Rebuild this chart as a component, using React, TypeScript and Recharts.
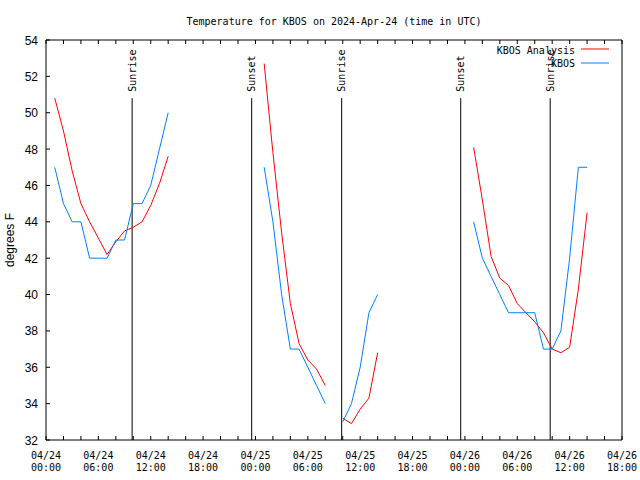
import { LineChart, Line, XAxis, YAxis, ReferenceLine } from 'recharts';

// hours since 2024-04-24 00:00 UTC, a null row breaks the line
const hours = [
  1, 2, 3, 4, 5, 6, 7, 8, 9, 10, 11, 12, 13, 14, 20,
  25, 26, 27, 28, 29, 30, 31, 32, 33,
  34, 35, 36, 37, 38, 44,
  49, 50, 51, 52, 53, 54, 55, 56, 57, 58, 59, 60, 61, 62,
];
const analysis = [
  50.8, 49.0, 46.8, 45.0, 44.0, 43.1, 42.2, 42.9, 43.5, 43.7, 44.0, 44.9, 46.1, 47.6, null,
  52.7, 47.8, 43.4, 39.5, 37.3, 36.4, 35.9, 35.0, null,
  33.2, 32.9, 33.7, 34.3, 36.8, null,
  48.1, 45.2, 42.1, 40.9, 40.5, 39.5, 39.0, 38.5, 37.9, 37.0, 36.8, 37.1, 40.3, 44.5,
];
const observed = [
  47, 45, 44, 44, 42, 42, 42, 43, 43, 45, 45, 46, 48, 50, null,
  47, 44, 40, 37, 37, 36, 35, 34, null,
  33, 34, 36, 39, 40, null,
  44, 42, 41, 40, 39, 39, 39, 39, 37, 37, 38, 42, 47, 47,
];

const eventHours = [9.87, 23.57, 33.88, 47.52, 57.77];
const eventNames = ['Sunrise', 'Sunset', 'Sunrise', 'Sunset', 'Sunrise'];

const xTicks = [0, 2, 4, 6, 8, 10, 12, 14, 16, 18, 20, 22, 24, 26, 28, 30, 32, 34, 36, 38, 40, 42, 44, 46, 48, 50, 52, 54, 56, 58, 60, 62, 64, 66];
const yTicks = [32, 34, 36, 38, 40, 42, 44, 46, 48, 50, 52, 54];
const days = ['04/24', '04/25', '04/26'];

const data = hours.map((hour, i) => ({ hour, analysis: analysis[i], observed: observed[i] }));

const MONO = '"DejaVu Sans Mono", monospace';
const SANS = '"Liberation Sans", Arial, sans-serif';
const TICK = 4;
const EVENT_TOP = 50.8; // sunrise/sunset rules stop here, label goes above

const BottomTick = ({ x, y, payload }: any) => {
  const h = payload.value;
  return (
    <g>
      <line x1={x} x2={x} y1={y} y2={y - TICK} stroke="#000" />
      {h % 6 === 0 && (
        <text x={x} y={y + 19} textAnchor="middle" fontFamily={MONO} fontSize={10} fill="#000">
          <tspan x={x}>{days[Math.floor(h / 24)]}</tspan>
          <tspan x={x} dy={12}>{String(h % 24).padStart(2, '0')}:00</tspan>
        </text>
      )}
    </g>
  );
};

const TopTick = ({ x, y }: any) => <line x1={x} x2={x} y1={y} y2={y + TICK} stroke="#000" />;

const LeftTick = ({ x, y, payload }: any) => (
  <g>
    <line x1={x} x2={x + TICK} y1={y} y2={y} stroke="#000" />
    <text x={x - 8} y={y + 4.5} textAnchor="end" fontFamily={SANS} fontSize={12} fill="#000">
      {payload.value}
    </text>
  </g>
);

const RightTick = ({ x, y }: any) => <line x1={x} x2={x - TICK} y1={y} y2={y} stroke="#000" />;

const EventLabel = ({ viewBox, text }: any) => (
  <text
    transform={`translate(${viewBox.x},${viewBox.y - 6.5}) rotate(-90)`}
    textAnchor="start"
    dominantBaseline="central"
    fontFamily={MONO}
    fontSize={10}
    fill="#000"
  >
    {text}
  </text>
);

export default function App() {
  return (
    <div style={{ position: 'absolute', left: 0, top: 0, width: 640, height: 480, background: '#fff' }}>
      <LineChart width={640} height={480} data={data} margin={{ top: 39, right: 17, bottom: 0, left: 0 }}>
        <XAxis
          xAxisId="bottom"
          dataKey="hour"
          type="number"
          domain={[0, 66]}
          ticks={xTicks}
          interval={0}
          height={40}
          tickSize={0}
          tickMargin={0}
          tickLine={false}
          axisLine={{ stroke: '#000' }}
          tick={<BottomTick />}
        />
        <XAxis
          xAxisId="top"
          orientation="top"
          dataKey="hour"
          type="number"
          domain={[0, 66]}
          ticks={xTicks}
          interval={0}
          height={1}
          tickSize={0}
          tickMargin={0}
          tickLine={false}
          axisLine={{ stroke: '#000' }}
          tick={<TopTick />}
        />
        <YAxis
          yAxisId="left"
          type="number"
          domain={[32, 54]}
          ticks={yTicks}
          interval={0}
          width={46}
          tickSize={0}
          tickMargin={0}
          tickLine={false}
          axisLine={{ stroke: '#000' }}
          tick={<LeftTick />}
        />
        <YAxis
          yAxisId="right"
          orientation="right"
          type="number"
          domain={[32, 54]}
          ticks={yTicks}
          interval={0}
          width={1}
          tickSize={0}
          tickMargin={0}
          tickLine={false}
          axisLine={{ stroke: '#000' }}
          tick={<RightTick />}
        />
        {eventHours.map((t, i) => (
          <ReferenceLine
            key={i}
            xAxisId="bottom"
            yAxisId="left"
            segment={[{ x: t, y: 32 }, { x: t, y: EVENT_TOP }]}
            stroke="#000"
            strokeWidth={1}
            label={<EventLabel text={eventNames[i]} />}
          />
        ))}
        <Line
          xAxisId="bottom"
          yAxisId="left"
          type="linear"
          dataKey="analysis"
          stroke="#ff0000"
          strokeWidth={1}
          dot={false}
          isAnimationActive={false}
        />
        <Line
          xAxisId="bottom"
          yAxisId="left"
          type="linear"
          dataKey="observed"
          stroke="#0080ff"
          strokeWidth={1}
          dot={false}
          isAnimationActive={false}
        />
      </LineChart>
      <svg width={640} height={480} style={{ position: 'absolute', left: 0, top: 0, pointerEvents: 'none' }}>
        <text x={334} y={25} textAnchor="middle" fontFamily={MONO} fontSize={10} fill="#000">
          Temperature for KBOS on 2024-Apr-24 (time in UTC)
        </text>
        <text
          transform="translate(9.5,240) rotate(-90)"
          textAnchor="middle"
          dominantBaseline="central"
          fontFamily={SANS}
          fontSize={12}
          fill="#000"
        >
          degrees F
        </text>
        <text x={575} y={53.5} textAnchor="end" fontFamily={MONO} fontSize={10} fill="#000">KBOS Analysis</text>
        <line x1={581} x2={609} y1={49} y2={49} stroke="#ff0000" />
        <text x={575} y={67} textAnchor="end" fontFamily={MONO} fontSize={10} fill="#000">KBOS</text>
        <line x1={581} x2={609} y1={63} y2={63} stroke="#0080ff" />
      </svg>
    </div>
  );
}
